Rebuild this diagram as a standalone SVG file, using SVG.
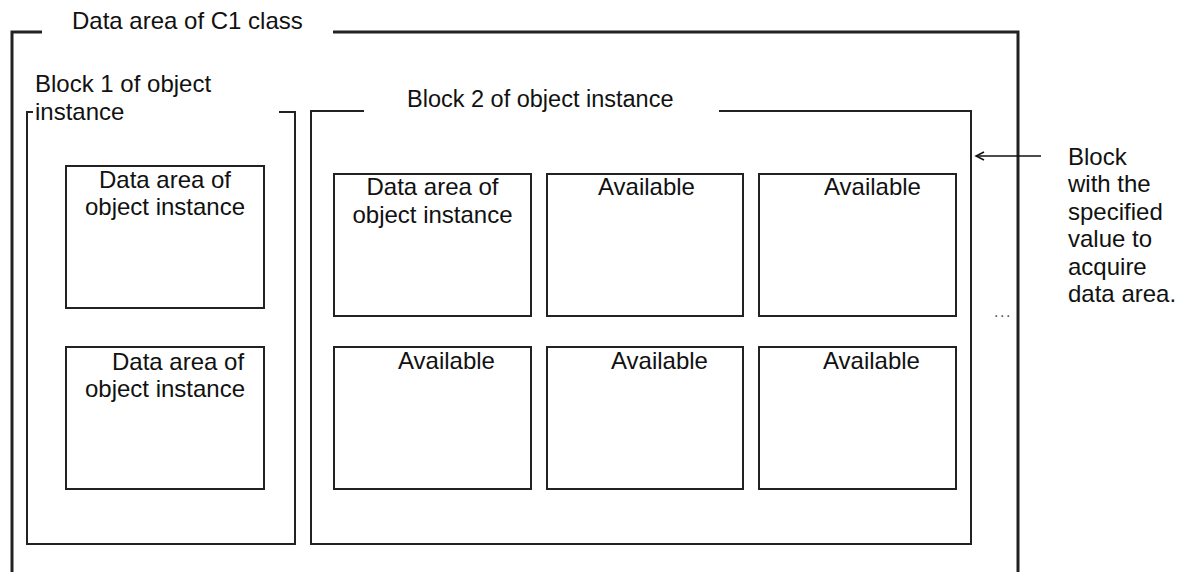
<svg xmlns="http://www.w3.org/2000/svg" width="1178" height="572" viewBox="0 0 1178 572">
<style>
text{font-family:"Liberation Sans",Arial,sans-serif;font-size:24px;fill:#111}
.frame{fill:none;stroke:#222;stroke-width:3}
.blk{fill:none;stroke:#222;stroke-width:2}
.box{fill:none;stroke:#222;stroke-width:2}
.conn{fill:none;stroke:#111;stroke-width:1.5}
</style>
<defs>
<marker id="arr" markerWidth="12" markerHeight="12" refX="10" refY="6" orient="auto" markerUnits="userSpaceOnUse">
<path d="M2,2 L10,6 L2,10" fill="none" stroke="#111" stroke-width="1.5"/>
</marker>
</defs>
<rect width="1178" height="572" fill="#fff"/>
<g id="outer-frame">
<path class="frame" d="M12,572 V32 H42 M333,32 H1018 V572"/>
<text x="72" y="29">Data area of C1 class</text>
</g>
<g id="block1">
<path class="blk" d="M33,112 H27 V544 H295 V112 H279"/>
<text x="35" y="92">Block 1 of object</text>
<text x="35" y="120">instance</text>
</g>
<g id="block2">
<path class="blk" d="M364,111 H311 V544 H971 V111 H719"/>
<text x="407" y="107" style="font-size:23.5px">Block 2 of object instance</text>
</g>
<g id="b1-data1">
<rect class="box" x="66" y="166" width="198" height="142"/>
<text x="165" y="188" text-anchor="middle">Data area of</text>
<text x="165" y="215" text-anchor="middle">object instance</text>
</g>
<g id="b1-data2">
<rect class="box" x="66" y="347" width="198" height="142"/>
<text x="112" y="370">Data area of</text>
<text x="165" y="397" text-anchor="middle">object instance</text>
</g>
<g id="b2-data">
<rect class="box" x="334" y="174" width="197" height="142"/>
<text x="432.5" y="195" text-anchor="middle">Data area of</text>
<text x="432.5" y="223" text-anchor="middle">object instance</text>
</g>
<g id="b2-avail1">
<rect class="box" x="547" y="174" width="196" height="142"/>
<text x="598" y="195">Available</text>
</g>
<g id="b2-avail2">
<rect class="box" x="759" y="174" width="197" height="142"/>
<text x="824" y="195">Available</text>
</g>
<g id="b2-avail3">
<rect class="box" x="334" y="347" width="197" height="142"/>
<text x="398" y="369">Available</text>
</g>
<g id="b2-avail4">
<rect class="box" x="547" y="347" width="196" height="142"/>
<text x="611" y="369">Available</text>
</g>
<g id="b2-avail5">
<rect class="box" x="759" y="347" width="197" height="142"/>
<text x="823" y="369">Available</text>
</g>
<g id="note">
<text x="1068" y="165">Block</text>
<text x="1068" y="192.4">with the</text>
<text x="1068" y="219.8">specified</text>
<text x="1068" y="247.2">value to</text>
<text x="1068" y="274.6">acquire</text>
<text x="1068" y="302">data area.</text>
</g>
<g id="ellipsis">
<text x="994" y="317" style="font-size:16px;letter-spacing:1.5px;fill:#555">...</text>
</g>
<g id="connectors">
<line class="conn" x1="1041" y1="156" x2="976" y2="156" marker-end="url(#arr)"/>
</g>
</svg>
